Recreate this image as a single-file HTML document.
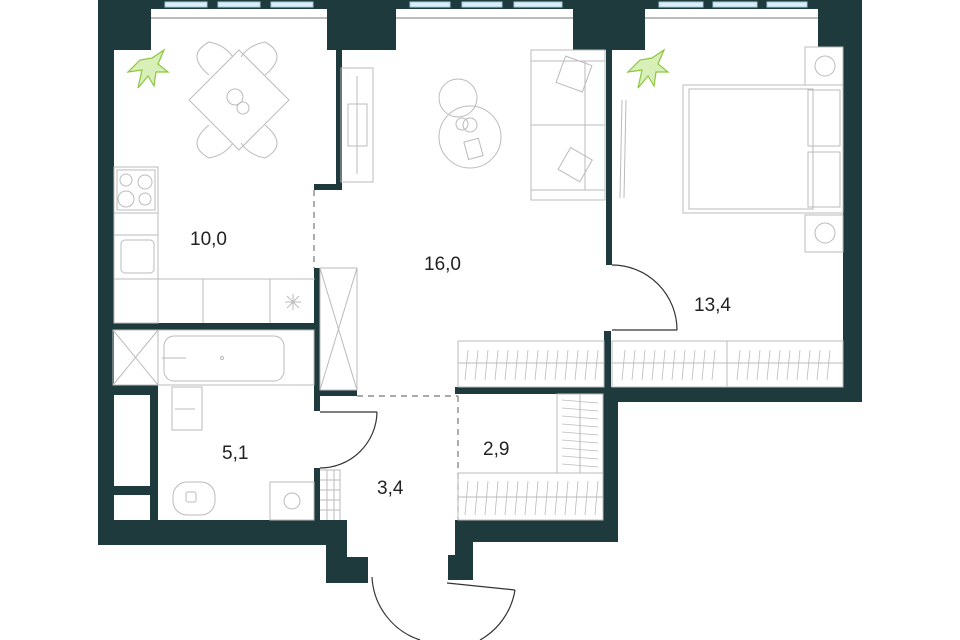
<!DOCTYPE html>
<html><head><meta charset="utf-8"><style>
html,body{margin:0;padding:0;background:#fff;width:960px;height:640px;overflow:hidden}
svg{display:block}
text{font-family:"Liberation Sans",sans-serif;font-size:19px;fill:#222}
</style></head><body>
<svg width="960" height="640" viewBox="0 0 960 640" xmlns="http://www.w3.org/2000/svg">
<g fill="#1e3a3c">
<!-- left outer -->
<rect x="98" y="0" width="16" height="545"/>
<rect x="98" y="0" width="53" height="50"/>
<!-- columns -->
<rect x="327" y="0" width="69" height="50"/>
<rect x="573" y="0" width="72" height="50"/>
<rect x="818" y="0" width="44" height="47"/>
<rect x="843" y="0" width="19" height="402"/>
<!-- window frames -->
<rect x="151" y="0" width="176" height="9"/>
<rect x="396" y="0" width="177" height="9"/>
<rect x="645" y="0" width="173" height="9"/>
<!-- kitchen/living wall -->
<rect x="336" y="50" width="6" height="140"/>
<rect x="314" y="184" width="28" height="6"/>
<!-- living/bedroom wall -->
<rect x="606" y="50" width="6" height="215"/>
<rect x="604" y="331" width="7" height="60"/>
<rect x="604" y="387" width="258" height="15"/>
<!-- 2,9 closet walls -->
<rect x="455" y="387" width="165" height="7"/>
<rect x="603" y="387" width="15" height="155"/>
<rect x="455" y="520" width="163" height="22"/>
<rect x="455" y="520" width="18" height="60"/>
<rect x="448" y="555" width="10" height="25"/>
<!-- bottom left -->
<rect x="98" y="520" width="247" height="25"/>
<rect x="326" y="520" width="21" height="63"/>
<rect x="326" y="557" width="42" height="26"/>
<!-- bath walls -->
<rect x="113" y="323" width="202" height="7"/>
<rect x="314" y="268" width="6" height="143"/>
<rect x="314" y="468" width="6" height="55"/>
<rect x="320" y="390" width="37" height="6"/>
<rect x="113" y="385" width="44" height="10"/>
<rect x="150" y="385" width="8" height="136"/>
<rect x="113" y="486" width="40" height="9"/>
</g>
<!-- window glass -->
<g fill="#dfeef5" stroke="#9fc9dc" stroke-width="1">
<rect x="165" y="2" width="42" height="5"/><rect x="218" y="2" width="42" height="5"/><rect x="271" y="2" width="42" height="5"/>
<rect x="410" y="2" width="40" height="5"/><rect x="462" y="2" width="40" height="5"/><rect x="514" y="2" width="48" height="5"/>
<rect x="659" y="2" width="44" height="5"/><rect x="713" y="2" width="44" height="5"/><rect x="767" y="2" width="40" height="5"/>
</g>
<g stroke="#777" stroke-width="1" fill="none">
<line x1="151" y1="18" x2="327" y2="18"/><line x1="396" y1="18" x2="573" y2="18"/><line x1="645" y1="18" x2="818" y2="18"/>
</g>
<!-- dashed -->
<g stroke="#777" stroke-width="1.2" fill="none" stroke-dasharray="6,5">
<line x1="314" y1="190" x2="314" y2="268"/>
<line x1="357" y1="396" x2="458" y2="396"/>
<line x1="458" y1="396" x2="458" y2="520"/>
</g>
<g stroke="#bbb" stroke-width="1" fill="none">
<!-- kitchen -->
<rect x="114" y="167" width="44" height="156"/>
<rect x="117" y="170" width="38" height="40"/>
<circle cx="126" cy="180" r="6"/><circle cx="145" cy="182" r="7"/><circle cx="126" cy="199" r="8"/><circle cx="145" cy="199" r="6"/>
<line x1="114" y1="213" x2="158" y2="213"/><line x1="114" y1="235" x2="158" y2="235"/>
<rect x="121" y="240" width="33" height="33" rx="4"/>
<line x1="114" y1="279" x2="315" y2="279"/>
<line x1="158" y1="279" x2="158" y2="323"/><line x1="203" y1="279" x2="203" y2="323"/><line x1="270" y1="279" x2="270" y2="323"/>
<path d="M287 296 l12 12 M299 296 l-12 12 M293 294 v16 M285 302 h16"/>
<!-- dining -->
<polygon points="239,50 289,100 239,150 189,100"/>
<circle cx="235" cy="97" r="8"/><circle cx="243" cy="108" r="6"/>
<path d="M209 75 Q185 55 209 42 Q225 45 233 57"/><path d="M265 75 Q289 55 265 42 Q249 45 241 57"/>
<path d="M209 125 Q185 145 209 158 Q225 155 233 143"/><path d="M265 125 Q289 145 265 158 Q249 155 241 143"/>
<!-- bath -->
<rect x="113" y="330" width="45" height="55"/><path d="M113 330 L158 385 M158 330 L113 385"/>
<rect x="158" y="330" width="156" height="55"/><rect x="164" y="336" width="120" height="45" rx="10"/>
<circle cx="222" cy="358" r="1.5"/><line x1="162" y1="358" x2="186" y2="358"/>
<rect x="172" y="387" width="30" height="43"/><line x1="175" y1="409" x2="195" y2="409"/>
<rect x="173" y="482" width="42" height="33" rx="14"/><rect x="186" y="492" width="10" height="10" rx="2"/>
<rect x="270" y="482" width="44" height="38"/><circle cx="292" cy="501" r="8"/>
<path d="M320 470 h20 v50 M320 480h20 M320 490h20 M320 500h20 M320 510h20 M327 470v50 M334 470v50"/>
<rect x="320" y="268" width="37" height="122"/><path d="M320 268 L357 390 M357 268 L320 390"/>
<!-- living -->
<rect x="341" y="68" width="32" height="114"/><rect x="348" y="104" width="19" height="42"/><line x1="357" y1="76" x2="357" y2="174"/>
<circle cx="458" cy="98" r="19"/><circle cx="470" cy="137" r="31"/>
<circle cx="462" cy="124" r="6"/><circle cx="470" cy="125" r="7"/>
<rect x="466" y="140" width="15" height="18" transform="rotate(-15 473 149)"/>
<rect x="531" y="50" width="74" height="150"/><line x1="531" y1="125" x2="605" y2="125"/><line x1="531" y1="61" x2="605" y2="61"/><line x1="531" y1="190" x2="605" y2="190"/><line x1="585" y1="61" x2="585" y2="190"/>
<rect x="560" y="60" width="28" height="28" transform="rotate(20 574 74)"/>
<rect x="563" y="152" width="25" height="25" transform="rotate(30 575 164)"/>
<!-- bedroom -->
<rect x="683" y="85" width="160" height="128"/>
<rect x="689" y="89" width="124" height="120"/>
<rect x="808" y="90" width="32" height="56"/><rect x="808" y="152" width="32" height="55"/>
<rect x="805" y="47" width="38" height="38"/><circle cx="825" cy="66" r="10"/>
<rect x="805" y="215" width="38" height="37"/><circle cx="825" cy="233" r="10"/>
<line x1="622" y1="100" x2="620" y2="198"/><line x1="626" y1="100" x2="624" y2="198"/>
<!-- wardrobes -->
<rect x="458" y="341" width="146" height="46"/><line x1="458" y1="363" x2="604" y2="363"/>
<rect x="612" y="341" width="231" height="46"/><line x1="612" y1="363" x2="843" y2="363"/><line x1="727" y1="341" x2="727" y2="387"/>
<rect x="458" y="473" width="145" height="47"/><line x1="458" y1="497" x2="603" y2="497"/>
<rect x="557" y="394" width="46" height="79"/><line x1="580" y1="394" x2="580" y2="473"/>
</g>
<!-- hatch -->
<g stroke="#bbb" stroke-width="0.8">
<path d="M465 380 l3 -30 M475 380 l3 -30 M485 380 l3 -30 M495 380 l3 -30 M505 380 l3 -30 M515 380 l3 -30 M525 380 l3 -30 M535 380 l3 -30 M545 380 l3 -30 M555 380 l3 -30 M565 380 l3 -30 M575 380 l3 -30 M585 380 l3 -30 M595 380 l3 -30"/>
<path d="M622 380 l3 -30 M632 380 l3 -30 M642 380 l3 -30 M652 380 l3 -30 M662 380 l3 -30 M672 380 l3 -30 M682 380 l3 -30 M692 380 l3 -30 M702 380 l3 -30 M712 380 l3 -30 M737 380 l3 -30 M747 380 l3 -30 M757 380 l3 -30 M767 380 l3 -30 M777 380 l3 -30 M787 380 l3 -30 M797 380 l3 -30 M807 380 l3 -30 M817 380 l3 -30 M827 380 l3 -30"/>
<path d="M465 515 l3 -34 M475 515 l3 -34 M485 515 l3 -34 M495 515 l3 -34 M505 515 l3 -34 M515 515 l3 -34 M525 515 l3 -34 M535 515 l3 -34 M545 515 l3 -34 M555 515 l3 -34 M565 515 l3 -34 M575 515 l3 -34 M585 515 l3 -34 M595 515 l3 -34"/>
<path d="M562 400 l36 3 M562 408 l36 3 M562 416 l36 3 M562 424 l36 3 M562 432 l36 3 M562 440 l36 3 M562 448 l36 3 M562 456 l36 3 M562 464 l36 3"/>
</g>
<!-- doors -->
<g stroke="#333" stroke-width="1.2" fill="none">
<path d="M612 265 A65 65 0 0 1 677 330"/><line x1="612" y1="330" x2="677" y2="330"/>
<path d="M377 412 A57 57 0 0 1 320 468"/><line x1="320" y1="412" x2="377" y2="412"/>
<path d="M372 577 A70 70 0 0 0 420 640"/>
<line x1="447" y1="583" x2="515" y2="590"/><path d="M515 590 A70 70 0 0 1 480 640"/>
</g>
<!-- plants -->
<g stroke="#8cc63f" stroke-width="1.2" fill="#d8efb8">
<path d="M140 60 l-12 12 l14 -2 l-4 18 l10 -12 l6 10 l2 -14 l12 0 l-10 -8 l6 -14 l-12 8 z"/>
<path d="M640 60 l-12 12 l14 -2 l-4 18 l10 -12 l6 10 l2 -14 l12 0 l-10 -8 l6 -14 l-12 8 z"/>
</g>
<text x="190" y="245">10,0</text>
<text x="424" y="270">16,0</text>
<text x="694" y="311">13,4</text>
<text x="222" y="459">5,1</text>
<text x="377" y="494">3,4</text>
<text x="483" y="455">2,9</text>
</svg>
</body></html>
